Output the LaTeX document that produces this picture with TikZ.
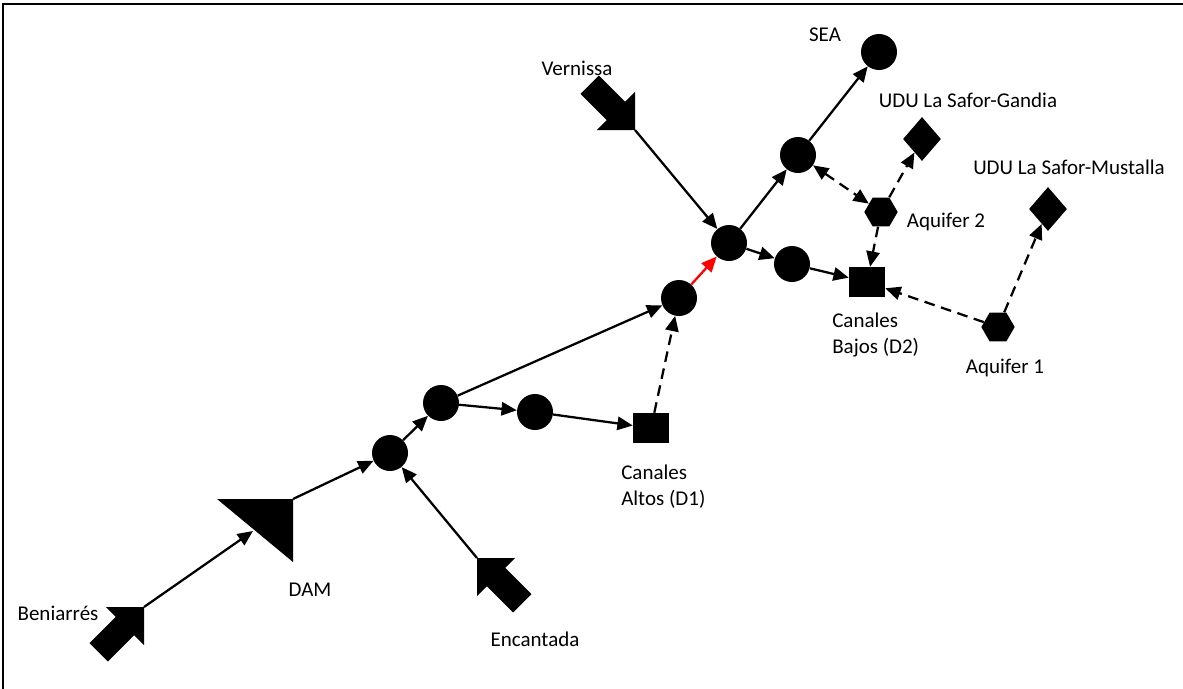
\documentclass[tikz,border=0pt]{standalone}
\usepackage{fontspec}
\setmainfont{Carlito}
\usetikzlibrary{shapes.geometric,arrows.meta}
\begin{document}
\begin{tikzpicture}[x=0.75pt,y=-0.75pt,
  every node/.style={font=\fontsize{15.75}{19.5}\selectfont},
  junc/.style={circle,fill=black,inner sep=0pt,minimum size=27pt},
  demand/.style={rectangle,fill=black,inner sep=0pt,minimum width=27pt,minimum height=22.5pt},
  aquif/.style={regular polygon,regular polygon sides=6,fill=black,inner sep=0pt,minimum size=25pt},
  udu/.style={diamond,fill=black,inner sep=0pt,minimum width=28.5pt,minimum height=33pt},
  lbl/.style={inner sep=0pt,align=left},
  flow/.style={line width=1.7pt,-{Triangle[length=11.5pt,width=10pt]}},
  dflow/.style={flow,dash pattern=on 8pt off 5pt},
  ddflow/.style={line width=1.7pt,{Triangle[length=11.5pt,width=10pt]}-{Triangle[length=11.5pt,width=10pt]},dash pattern=on 8pt off 5pt},
  inflow/.style={fill=black}
]
\useasboundingbox (0,0) rectangle (1183,689);
% frame (top and left)
\draw[line width=1.6pt] (1183,4) -- (3,4) -- (3,689);

% inflow block arrows
\coordinate (ben) at (144,607);
\coordinate (enc) at (477,558);
\coordinate (ver) at (635,130);
\begin{scope}[shift={(ben)},rotate=45]
  \fill (0,0) -- (-27,27) -- (-27,13) -- (-64,13) -- (-64,-13) -- (-27,-13) -- (-27,-27) -- cycle;
\end{scope}
\begin{scope}[shift={(enc)},rotate=135]
  \fill (0,0) -- (-27,27) -- (-27,13) -- (-64,13) -- (-64,-13) -- (-27,-13) -- (-27,-27) -- cycle;
\end{scope}
\begin{scope}[shift={(ver)},rotate=-45]
  \fill (0,0) -- (-27,27) -- (-27,13) -- (-64,13) -- (-64,-13) -- (-27,-13) -- (-27,-27) -- cycle;
\end{scope}

% DAM
\coordinate (dam) at (293,499);
\coordinate (damin) at (253,531);
\fill (217,499) -- (dam) -- (293,562) -- cycle;

% nodes
\node[junc] (n1) at (390,453) {};
\node[junc] (n2) at (441,403) {};
\node[junc] (n3) at (535,412) {};
\node[demand] (d1) at (651,428) {};
\node[junc] (n4) at (679,298) {};
\node[junc] (n5) at (729,243) {};
\node[junc] (n6) at (792,264) {};
\node[junc] (n7) at (798,155) {};
\node[junc] (sea) at (879,52) {};
\node[demand] (d2) at (867,282) {};
\node[aquif] (aq2) at (881,212) {};
\node[aquif] (aq1) at (998,327) {};
\node[udu] (gan) at (922,139) {};
\node[udu] (mus) at (1048,209) {};

% labels
\node[lbl] (lben) at (58,613) {Beniarrés};
\node[lbl] (ldam) at (310,590) {DAM};
\node[lbl] (lenc) at (535,639) {Encantada};
\node[lbl] (lver) at (577,68) {Vernissa};
\node[lbl,anchor=west] (ld1) at (621,487) {Canales\\Altos (D1)};
\node[lbl,anchor=west] (ld2) at (832,335) {Canales\\Bajos (D2)};
\node[lbl] (lsea) at (825,35) {SEA};
\node[lbl] (lgan) at (968,100) {UDU La Safor-Gandia};
\node[lbl] (lmus) at (1069,167) {UDU La Safor-Mustalla};
\node[lbl] (laq2) at (946,222) {Aquifer 2};
\node[lbl] (laq1) at (1005,368) {Aquifer 1};

% connectors
\draw[flow] (ben) -- (damin);
\draw[flow] (dam) -- (n1);
\draw[flow] (enc) -- (n1);
\draw[flow] (n1) -- (n2);
\draw[flow] (n2) -- (n3);
\draw[flow] (n3) -- (d1);
\draw[flow] (n2) -- (n4);
\draw[dflow] (d1) -- (n4);
\draw[flow,red] (n4) -- (n5);
\draw[flow] (ver) -- (n5);
\draw[flow] (n5) -- (n6);
\draw[flow] (n6) -- (d2);
\draw[flow] (n5) -- (n7);
\draw[flow] (n7) -- (sea);
\draw[ddflow] (n7) -- (aq2);
\draw[dflow] (aq2) -- (gan);
\draw[dflow] (aq2) -- (d2);
\draw[dflow] (aq1) -- (d2);
\draw[dflow] (aq1) -- (mus);
\end{tikzpicture}
\end{document}
